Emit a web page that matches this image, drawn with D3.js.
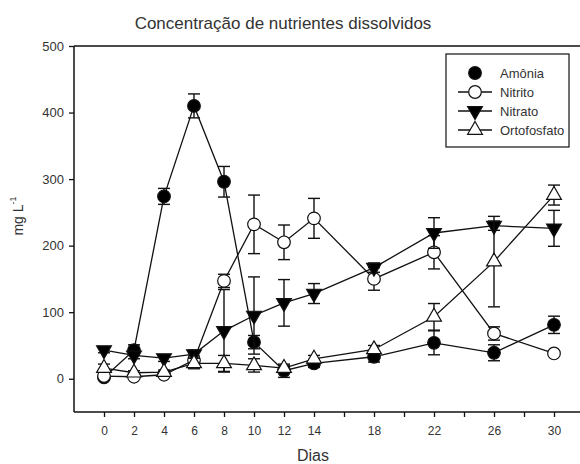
<!DOCTYPE html>
<html>
<head>
<meta charset="utf-8">
<script src="https://cdn.jsdelivr.net/npm/d3@7"></script>
<style>
  body { margin: 0; background: #fff; }
  text { font-family: "Liberation Sans", Arial, sans-serif; fill: #333; }
</style>
</head>
<body>
<div class="canvas"></div>
<script>
// data
var dias = [0, 2, 4, 6, 8, 10, 12, 14, 18, 22, 26, 30]
var tickDias = [0, 2, 4, 6, 8, 10, 12, 14, 16, 18, 20, 22, 24, 26, 28, 30]
var tickLabels = ["0", "2", "4", "6", "8", "10", "12", "14", "", "18", "", "22", "", "26", "", "30"]
var yTicks = [0, 100, 200, 300, 400, 500]

var amonia    = [2, 43, 274, 410, 296, 55, 12, 23, 33, 54, 39, 81]
var amoniaErr = [3, 8, 12, 18, 23, 10, 10, 6, 8, 18, 12, 13]
var nitrito    = [4, 3, 6, 28, 147, 232, 205, 241, 150, 190, 68, 38]
var nitritoErr = [2, 2, 3, 6, 10, 44, 26, 30, 17, 25, 10, 0]
var nitrato    = [43, 35, 31, 37, 72, 95, 114, 128, 167, 219, 230, 226]
var nitratoErr = [4, 5, 5, 6, 62, 58, 35, 15, 7, 23, 7, 27]
var orto    = [16, 9, 10, 23, 23, 20, 16, 30, 44, 93, 176, 276]
var ortoErr = [6, 3, 3, 8, 12, 10, 4, 5, 6, 20, 68, 15]

var names = ["Amônia", "Nitrito", "Nitrato", "Ortofosfato"]

var svg = d3.select(".canvas").append("svg").attr("width", 580).attr("height", 464)

var x = d3.scaleLinear().domain([-2, 31.8]).range([74, 581])
var y = d3.scaleLinear().domain([-50, 500]).range([412, 46])

// title
svg.append("text")
    .attr("x", 283).attr("y", 29)
    .attr("text-anchor", "middle")
    .style("font-size", "17px")
    .text("Concentração de nutrientes dissolvidos")

// axes
svg.append("g")
    .attr("transform", "translate(0,412)")
    .call(d3.axisBottom(x).tickValues(tickDias).tickSize(5).tickPadding(9)
        .tickFormat(function(d, i) { return tickLabels[i] }))
    .call(function(g) {
        g.select(".domain").attr("stroke", "#111").attr("stroke-width", 1.5).attr("d", "M74,0H580")
        g.selectAll("line").attr("stroke", "#111").attr("stroke-width", 1.3)
        g.selectAll("text").style("font-size", "12px").attr("fill", "#333")
    })

svg.append("g")
    .attr("transform", "translate(74,0)")
    .call(d3.axisLeft(y).tickValues(yTicks).tickSize(5).tickPadding(5))
    .call(function(g) {
        g.select(".domain").attr("stroke", "#111").attr("stroke-width", 1.5).attr("d", "M0,412V46")
        g.selectAll("line").attr("stroke", "#111").attr("stroke-width", 1.3)
        g.selectAll("text").style("font-size", "13px").attr("fill", "#333")
    })

// top frame line
svg.append("line")
    .attr("x1", 74).attr("x2", 580)
    .attr("y1", y(500)).attr("y2", y(500))
    .attr("stroke", "#111").attr("stroke-width", 1.5)

// axis titles
svg.append("text")
    .attr("x", 313).attr("y", 461)
    .attr("text-anchor", "middle")
    .style("font-size", "16px")
    .text("Dias")

var yl = svg.append("text")
    .attr("transform", "translate(23,216) rotate(-90)")
    .attr("text-anchor", "middle")
    .style("font-size", "14px")
yl.append("tspan").text("mg L")
yl.append("tspan").attr("dy", -7).style("font-size", "9px").text("-1")

var circle = d3.symbol().type(d3.symbolCircle).size(125)
var triDown = d3.symbol().type(d3.symbolTriangle).size(95)
var triUp = d3.symbol().type(d3.symbolTriangle).size(95)

var series = [
    { vals: amonia, err: amoniaErr, fill: "#000", sym: circle, rot: 0 },
    { vals: nitrito, err: nitritoErr, fill: "#fff", sym: circle, rot: 0 },
    { vals: nitrato, err: nitratoErr, fill: "#000", sym: triDown, rot: 180 },
    { vals: orto, err: ortoErr, fill: "#fff", sym: triUp, rot: 0 }
]

var line = d3.line()
    .x(function(d) { return x(d.d) })
    .y(function(d) { return y(d.v) })

series.forEach(function(s) {
    var pts = dias.map(function(d, i) { return { d: d, v: s.vals[i], e: s.err[i] } })
    var g = svg.append("g")

    // error bars
    pts.forEach(function(p) {
        if (p.e <= 0) return
        g.append("line")
            .attr("x1", x(p.d)).attr("x2", x(p.d))
            .attr("y1", y(p.v - p.e)).attr("y2", y(p.v + p.e))
            .attr("stroke", "#111").attr("stroke-width", 1.4)
        ;[p.v - p.e, p.v + p.e].forEach(function(v) {
            g.append("line")
                .attr("x1", x(p.d) - 6).attr("x2", x(p.d) + 6)
                .attr("y1", y(v)).attr("y2", y(v))
                .attr("stroke", "#111").attr("stroke-width", 1.4)
        })
    })

    g.append("path")
        .attr("d", line(pts))
        .attr("fill", "none")
        .attr("stroke", "#111")
        .attr("stroke-width", 1.3)

    g.selectAll(".pt").data(pts).enter().append("path")
        .attr("d", s.sym)
        .attr("transform", function(p) {
            return "translate(" + x(p.d) + "," + y(p.v) + ") rotate(" + s.rot + ")"
        })
        .attr("fill", s.fill)
        .attr("stroke", "#111")
        .attr("stroke-width", 1.2)
})

// legend
svg.append("rect")
    .attr("x", 446).attr("y", 54)
    .attr("width", 123).attr("height", 93)
    .attr("fill", "#fff")
    .attr("stroke", "#111").attr("stroke-width", 1.2)

series.forEach(function(s, i) {
    var ly = 73 + i * 19
    if (i > 0) {
        svg.append("line")
            .attr("x1", 458).attr("x2", 492)
            .attr("y1", ly).attr("y2", ly)
            .attr("stroke", "#111").attr("stroke-width", 1.3)
    }
    svg.append("path")
        .attr("d", s.sym)
        .attr("transform", "translate(475," + ly + ") rotate(" + s.rot + ")")
        .attr("fill", s.fill)
        .attr("stroke", "#111").attr("stroke-width", 1.2)
    svg.append("text")
        .attr("x", 500).attr("y", ly + 5)
        .style("font-size", "13px")
        .text(names[i])
})
</script>
</body>
</html>
